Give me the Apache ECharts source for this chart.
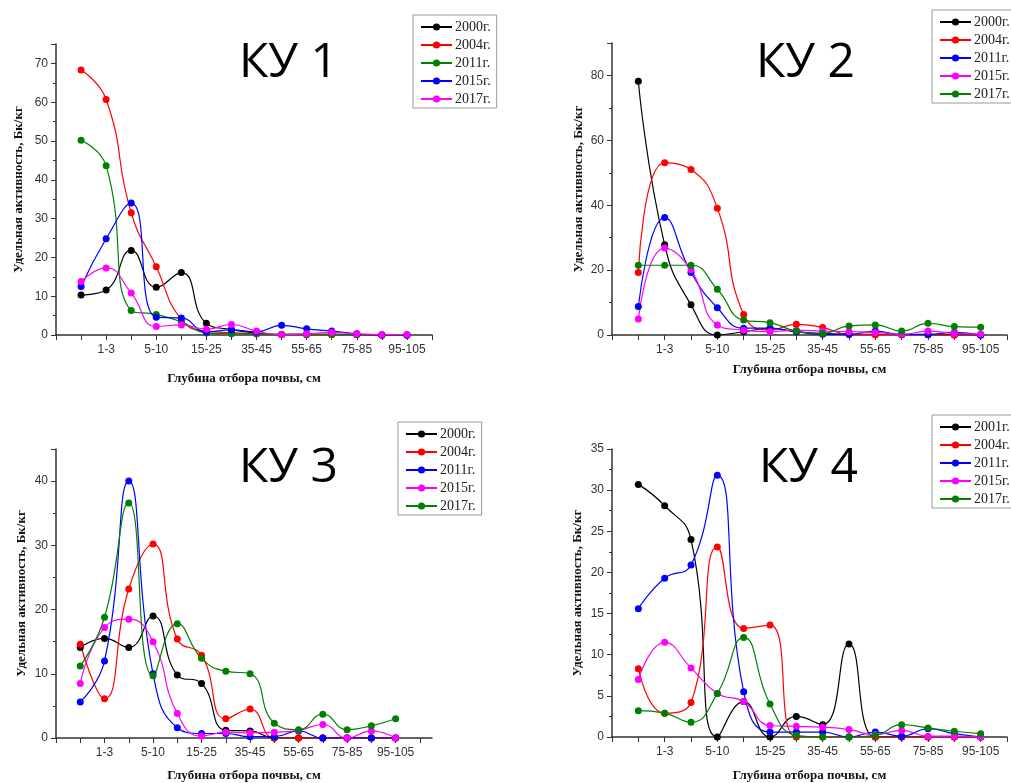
<!DOCTYPE html>
<html lang="ru">
<head>
<meta charset="UTF-8">
<title>КУ 1-4</title>
<script src="https://cdn.jsdelivr.net/npm/echarts@6/dist/echarts.min.js"></script>
<style>
  html, body { margin: 0; padding: 0; background: #fff; }
  #main { width: 1011px; height: 783px; }
</style>
</head>
<body>
<div id="main"></div>
<script type="text/javascript">
    // глубины отбора (точки стоят на x = 1..14)
    var depthLabels = ['0-1', '1-3', '3-5', '5-10', '10-15', '15-25', '25-35', '35-45', '45-55', '55-65', '65-75', '75-85', '85-95', '95-105'];
    var depthPos = [1, 2, 3, 4, 5, 6, 7, 8, 9, 10, 11, 12, 13, 14];

    // КУ 1
    var ku1Years = ['2000г.', '2004г.', '2011г.', '2015г.', '2017г.'];
    var ku1_2000 = [10.3, 11.6, 21.8, 12.3, 16.1, 3.0, 1.4, 0.5, 0.1, 0.1, 0.1, 0.1, 0, 0];
    var ku1_2004 = [68.3, 60.7, 31.5, 17.6, 4.0, 1.0, 0.6, 0.3, 0.1, 0.1, 0.1, 0.1, 0, 0];
    var ku1_2011 = [50.2, 43.6, 6.3, 5.3, 3.4, 0.5, 0.3, 0.3, 0.2, 0.2, 0.2, 0.1, 0, 0];
    var ku1_2015 = [12.5, 24.8, 34.0, 4.6, 4.4, 0.8, 1.3, 0.8, 2.5, 1.6, 1.0, 0.3, 0, 0];
    var ku1_2017 = [13.8, 17.3, 10.8, 2.2, 2.6, 1.5, 2.7, 1.0, 0.1, 0.3, 0.7, 0.3, 0.1, 0.1];

    // КУ 2
    var ku2Years = ['2000г.', '2004г.', '2011г.', '2015г.', '2017г.'];
    var ku2_2000 = [78.2, 27.8, 9.3, 0, 1.0, 2.0, 1.0, 0.5, 0.2, 0.2, 0.1, 0.1, 0.1, 0];
    var ku2_2004 = [19.3, 53.1, 51.0, 39.1, 6.3, 1.5, 3.3, 2.3, 0.2, 0.1, 0.1, 0.1, 0, 0];
    var ku2_2011 = [8.8, 36.2, 19.3, 8.4, 2.1, 2.1, 1.0, 0.2, 0.2, 1.2, 0.2, 0.2, 0.8, 0];
    var ku2_2015 = [4.9, 26.8, 20.1, 3.1, 1.5, 1.0, 1.5, 1.2, 1.0, 0.8, 0.2, 1.2, 0.5, 0.3];
    var ku2_2017 = [21.5, 21.5, 21.5, 14.1, 4.6, 3.8, 1.2, 0.5, 2.8, 3.1, 1.2, 3.6, 2.6, 2.4];

    // КУ 3
    var ku3Years = ['2000г.', '2004г.', '2011г.', '2015г.', '2017г.'];
    var ku3_2000 = [14.1, 15.5, 14.1, 19.0, 9.8, 8.5, 1.2, 1.1, 0, 0, 0, 0, 0, 0];
    var ku3_2004 = [14.6, 6.1, 23.2, 30.2, 15.4, 12.9, 3.0, 4.5, 0, 0, 0, 0, 0, 0];
    var ku3_2011 = [5.6, 12.0, 40.0, 10.0, 1.6, 0.7, 0.7, 0.2, 0.2, 1.1, 0, 0, 0, 0];
    var ku3_2015 = [8.5, 17.2, 18.5, 15.0, 3.8, 0.3, 0.9, 0.8, 0.9, 1.2, 2.1, 0, 1.1, 0];
    var ku3_2017 = [11.2, 18.8, 36.6, 9.7, 17.8, 12.4, 10.4, 10.0, 2.3, 1.3, 3.7, 1.3, 1.9, 3.0];

    // КУ 4
    var ku4Years = ['2001г.', '2004г.', '2011г.', '2015г.', '2017г.'];
    var ku4_2001 = [30.7, 28.1, 24.0, 0, 4.3, 0, 2.5, 1.5, 11.3, 0, 0, 0, 0, 0];
    var ku4_2004 = [8.3, 2.9, 4.2, 23.1, 13.2, 13.6, 0, 0, 0, 0, 0, 0, 0, 0];
    var ku4_2011 = [15.6, 19.3, 20.9, 31.8, 5.5, 0.6, 0.6, 0.6, 0, 0.6, 0.1, 1.0, 0.4, 0];
    var ku4_2015 = [7.0, 11.5, 8.4, 5.3, 4.3, 1.4, 1.3, 1.2, 0.9, 0.3, 0.8, 0.1, 0.1, 0];
    var ku4_2017 = [3.2, 2.9, 1.8, 5.3, 12.1, 4.0, 0.2, 0, 0, 0.2, 1.5, 1.1, 0.7, 0.4];

    var BLACK = '#000000', RED = '#ff0000', GREEN = '#008000', BLUE = '#0000ff', PINK = '#ff00ff';

    var panels = [
        {id: 'КУ 1', years: ku1Years, rows: [ku1_2000, ku1_2004, ku1_2011, ku1_2015, ku1_2017],
         colors: [BLACK, RED, GREEN, BLUE, PINK],
         grid: {left: 56, top: 44, width: 376, height: 291}, xMax: 15, yMax: 75, yStep: 10,
         title: {left: 239, top: 39}, legend: {left: 413, top: 15}, xGap: 37, yGap: 31},
        {id: 'КУ 2', years: ku2Years, rows: [ku2_2000, ku2_2004, ku2_2011, ku2_2015, ku2_2017],
         colors: [BLACK, RED, BLUE, PINK, GREEN],
         grid: {left: 612, top: 43, width: 395, height: 292}, xMax: 15, yMax: 90, yStep: 20,
         title: {left: 756, top: 39}, legend: {left: 932, top: 10}, xGap: 28, yGap: 27},
        {id: 'КУ 3', years: ku3Years, rows: [ku3_2000, ku3_2004, ku3_2011, ku3_2015, ku3_2017],
         colors: [BLACK, RED, BLUE, PINK, GREEN],
         grid: {left: 56, top: 449, width: 376, height: 291}, xMax: 15.5, yMax: 45, yStep: 10,
         title: {left: 239, top: 444}, legend: {left: 398, top: 422}, xGap: 31, yGap: 28},
        {id: 'КУ 4', years: ku4Years, rows: [ku4_2001, ku4_2004, ku4_2011, ku4_2015, ku4_2017],
         colors: [BLACK, RED, BLUE, PINK, GREEN],
         grid: {left: 612, top: 449, width: 395, height: 291}, xMax: 15, yMax: 35, yStep: 5,
         title: {left: 759, top: 444}, legend: {left: 932, top: 415}, xGap: 32, yGap: 28}
    ];

    var axisColor = '#333';
    var labelFont = {fontFamily: 'Liberation Sans', fontSize: 12, color: '#333'};
    var nameFont = {fontFamily: 'Liberation Serif', fontWeight: 'bold', fontSize: 13, color: '#111'};

    var option = {
        animation: false,
        backgroundColor: '#fff',
        title: [], legend: [], grid: [], xAxis: [], yAxis: [], series: []
    };

    panels.forEach(function (p, pi) {
        option.grid.push(p.grid);
        option.title.push({
            text: p.id, left: p.title.left, top: p.title.top, padding: 0,
            textStyle: {fontFamily: 'Open Sans', fontSize: 48, fontWeight: 'normal', color: '#000'}
        });

        var ticks = [];
        for (var t = 0; t <= 15; t++) ticks.push(t);
        option.xAxis.push({
            gridIndex: pi, type: 'value', min: 0, max: p.xMax,
            name: 'Глубина отбора почвы, см', nameLocation: 'middle', nameGap: p.xGap,
            nameTextStyle: nameFont,
            axisLine: {lineStyle: {color: axisColor, width: 1.5}},
            axisTick: {show: true, inside: false, length: 5, customValues: ticks, lineStyle: {color: axisColor}},
            axisLabel: Object.assign({
                margin: 9,
                customValues: [2, 4, 6, 8, 10, 12, 14],
                formatter: function (v) { return depthLabels[v - 1]; }
            }, labelFont),
            splitLine: {show: false}
        });
        option.yAxis.push({
            gridIndex: pi, type: 'value', min: 0, max: p.yMax, interval: p.yStep,
            name: 'Удельная активность, Бк/кг', nameLocation: 'middle', nameGap: p.yGap,
            nameTextStyle: nameFont,
            axisLine: {show: true, lineStyle: {color: axisColor, width: 1.5}},
            axisTick: {show: true, length: 5, lineStyle: {color: axisColor}},
            minorTick: {show: true, splitNumber: 2, length: 3, lineStyle: {color: axisColor}},
            axisLabel: Object.assign({
                margin: 8,
                formatter: function (v) { return v % p.yStep === 0 ? String(v) : ''; }
            }, labelFont),
            splitLine: {show: false}
        });

        var names = [];
        p.rows.forEach(function (vals, i) {
            var nm = p.id + '|' + p.years[i];
            names.push(nm);
            option.series.push({
                type: 'line', name: nm, xAxisIndex: pi, yAxisIndex: pi,
                smooth: 0.5, symbol: 'circle', symbolSize: 7,
                data: depthPos.map(function (x, j) { return [x, vals[j]]; }),
                lineStyle: {color: p.colors[i], width: 1.2},
                itemStyle: {color: p.colors[i]}
            });
        });

        option.legend.push({
            data: names, orient: 'vertical', left: p.legend.left, top: p.legend.top,
            itemWidth: 31, itemHeight: 9, itemGap: 4,
            padding: [5, 6, 2, 7],
            borderColor: '#999', borderWidth: 1, selectedMode: false,
            formatter: function (name) { return name.split('|')[1]; },
            textStyle: {fontFamily: 'Liberation Serif', fontSize: 14, color: '#222', padding: [0, 0, 0, -2]}
        });
    });

    var myChart = echarts.init(document.getElementById('main'));
    myChart.setOption(option);
</script>
</body>
</html>
